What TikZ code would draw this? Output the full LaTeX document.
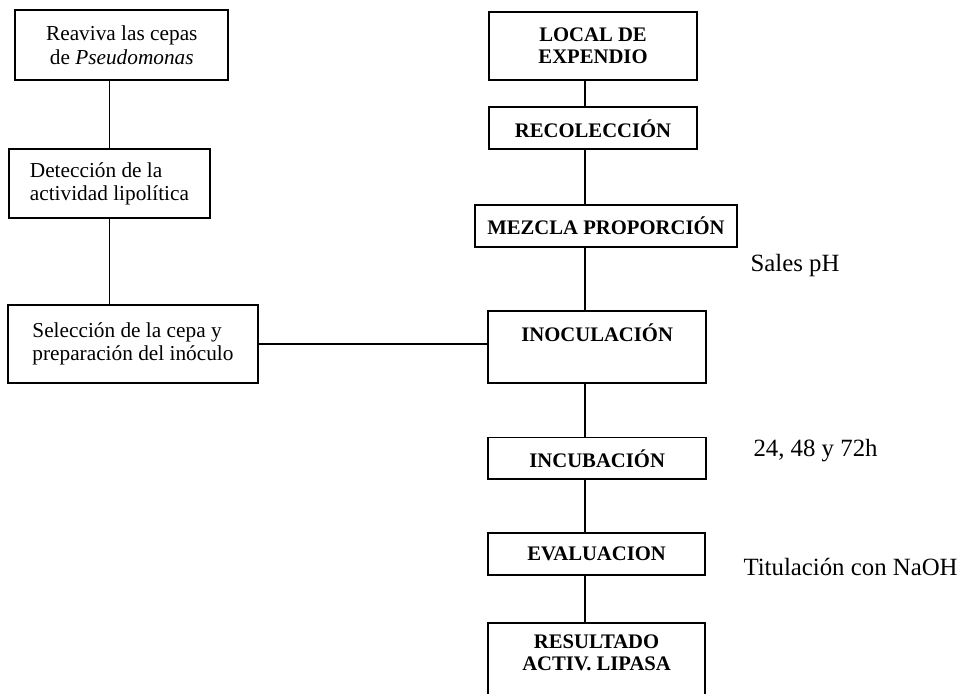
\documentclass[tikz,border=0pt]{standalone}
\usepackage{fontspec}
\setmainfont{Liberation Serif}
\usepackage{tikz}
\usetikzlibrary{positioning, calc}

\begin{document}
\begin{tikzpicture}[
    proc/.style={draw, line width=0.9pt, inner sep=0pt, align=left, font=\fontsize{10.3}{11.2}\selectfont},
    etapa/.style={draw, line width=0.9pt, inner sep=0pt, align=center, font=\fontsize{10}{10.8}\selectfont\bfseries},
    nota/.style={anchor=west, inner sep=0pt, font=\fontsize{12}{14}\selectfont},
    enlace/.style={line width=0.9pt}
]
    \useasboundingbox (0,0) rectangle (16.64,-11.78);
    \clip (0,0) rectangle (16.64,-11.78);

    % Preparacion del inoculo
    \node[proc, align=center, minimum width=3.62cm, minimum height=1.19cm] (reaviva) at (2.07,-0.77) {Reaviva las cepas\\de \textit{Pseudomonas}};
    \node[proc, minimum width=3.42cm, minimum height=1.17cm] (deteccion) at (1.86,-3.12) {Detección de la\\actividad lipolítica};
    \node[proc, minimum width=4.25cm, minimum height=1.33cm] (seleccion) at (2.26,-5.85) {Selección de la cepa y\\preparación del inóculo};

    % Etapas del proceso
    \node[etapa, minimum width=3.54cm, minimum height=1.16cm] (local) at (10.08,-0.78) {LOCAL DE\\EXPENDIO};
    \node[etapa, minimum width=3.54cm, minimum height=0.71cm] (recoleccion) at (10.08,-2.18) {RECOLECCIÓN};
    \node[etapa, minimum width=4.45cm, minimum height=0.71cm] (mezcla) at (10.30,-3.84) {MEZCLA PROPORCIÓN};
    \node[etapa, minimum width=3.71cm, minimum height=1.22cm, text height=7pt, text depth=12pt] (inoculacion) at (10.15,-5.90) {INOCULACIÓN};
    \node[etapa, minimum width=3.71cm, minimum height=0.71cm] (incubacion) at (10.15,-7.79) {INCUBACIÓN};
    \node[etapa, minimum width=3.69cm, minimum height=0.71cm] (evaluacion) at (10.14,-9.42) {EVALUACION};
    \node[etapa, minimum width=3.69cm, minimum height=1.53cm, text height=18pt, text depth=16pt] (resultado) at (10.14,-11.36) {RESULTADO\\ACTIV. LIPASA};

    % Condiciones
    \node[nota] (sales) at (12.75,-4.51) {Sales pH};
    \node[nota] (horas) at (12.80,-7.65) {24, 48 y 72h};
    \node[nota] (titulacion) at (12.63,-9.64) {Titulación con NaOH};

    % Conectores
    \draw[enlace] (deteccion.north) -- (deteccion.north |- reaviva.south);
    \draw[enlace] (deteccion.south) -- (deteccion.south |- seleccion.north);
    \draw[enlace] (seleccion.east) -- (seleccion.east -| inoculacion.west);

    \coordinate (spine) at (9.95,0);
    \draw[enlace] (spine |- local.south) -- (spine |- recoleccion.north);
    \draw[enlace] (spine |- recoleccion.south) -- (spine |- mezcla.north);
    \draw[enlace] (spine |- mezcla.south) -- (spine |- inoculacion.north);
    \draw[enlace] (spine |- inoculacion.south) -- (spine |- incubacion.north);
    \draw[enlace] (spine |- incubacion.south) -- (spine |- evaluacion.north);
    \draw[enlace] (spine |- evaluacion.south) -- (spine |- resultado.north);
\end{tikzpicture}
\end{document}
